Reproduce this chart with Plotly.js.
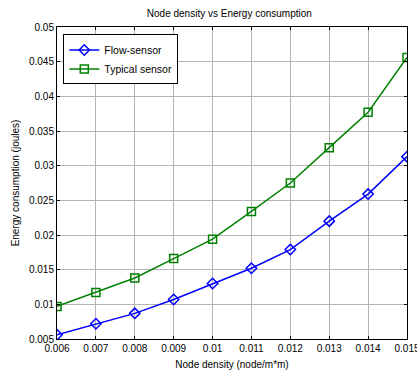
<!DOCTYPE html>
<html><head><meta charset="utf-8">
<script src="https://cdn.plot.ly/plotly-3.0.1.min.js"></script>
<style>html,body{margin:0;padding:0;background:#fff;}#chart{width:417px;height:371px;}</style>
</head><body><div id="chart"></div>
<script>
var nodeDensity = [0.006, 0.007, 0.008, 0.009, 0.010, 0.011, 0.012, 0.013, 0.014, 0.015];
var flowSensor = [0.0056, 0.0072, 0.0087, 0.0107, 0.0130, 0.0152, 0.0179, 0.0220, 0.0259, 0.0313];
var typicalSensor = [0.0097, 0.0117, 0.0138, 0.0166, 0.0194, 0.0234, 0.0275, 0.0326, 0.0377, 0.0456];
var xTickVals = [0.006, 0.007, 0.008, 0.009, 0.01, 0.011, 0.012, 0.013, 0.014, 0.015];
var xTickText = ["0.006", "0.007", "0.008", "0.009", "0.01", "0.011", "0.012", "0.013", "0.014", "0.015"];
var yTickVals = [0.005, 0.01, 0.015, 0.02, 0.025, 0.03, 0.035, 0.04, 0.045, 0.05];
var yTickText = ["0.005", "0.01", "0.015", "0.02", "0.025", "0.03", "0.035", "0.04", "0.045", "0.05"];

var font = "Liberation Sans, Arial, sans-serif";
var traces = [
  {x: nodeDensity, y: flowSensor, name: "Flow-sensor", type: "scatter", mode: "lines+markers",
   line: {color: "#0000ff", width: 1.5},
   marker: {symbol: "diamond-open", size: 8, color: "#0000ff", line: {width: 1.5, color: "#0000ff"}}},
  {x: nodeDensity, y: typicalSensor, name: "Typical sensor", type: "scatter", mode: "lines+markers",
   line: {color: "#008000", width: 1.5},
   marker: {symbol: "square-open", size: 8, color: "#008000", line: {width: 1.5, color: "#008000"}}}
];
var axisCommon = {
  showline: true, linecolor: "#000", linewidth: 1, mirror: "ticks",
  ticks: "inside", ticklen: 3, tickcolor: "#000",
  showgrid: true, gridcolor: "#b4b4b4", gridwidth: 1, griddash: "solid",
  zeroline: false, ticklabeloverflow: "allow",
  tickfont: {family: font, size: 10, color: "#000"}
};
var layout = {
  width: 417, height: 371,
  margin: {l: 57, r: 10, t: 27, b: 32},
  paper_bgcolor: "#fff", plot_bgcolor: "#fff",
  title: {text: "Node density vs Energy consumption", font: {family: font, size: 10, color: "#000"},
          x: 0.55, xanchor: "center", y: 0.972, yanchor: "top"},
  xaxis: Object.assign({}, axisCommon, {range: [0.006, 0.015], tickvals: xTickVals, ticktext: xTickText,
    title: {text: "Node density (node/m*m)", font: {family: font, size: 10, color: "#000"}, standoff: 7}}),
  yaxis: Object.assign({}, axisCommon, {range: [0.005, 0.05], tickvals: yTickVals, ticktext: yTickText,
    title: {text: "Energy consumption (joules)", font: {family: font, size: 10, color: "#000"}, standoff: 7}}),
  showlegend: true,
  legend: {x: 0.018, y: 0.976, xanchor: "left", yanchor: "top", bgcolor: "#fff",
           bordercolor: "#000", borderwidth: 1, font: {family: font, size: 10.5, color: "#000"},
           tracegroupgap: 0}
};
Plotly.newPlot("chart", traces, layout, {displayModeBar: false, staticPlot: true});
</script></body></html>
